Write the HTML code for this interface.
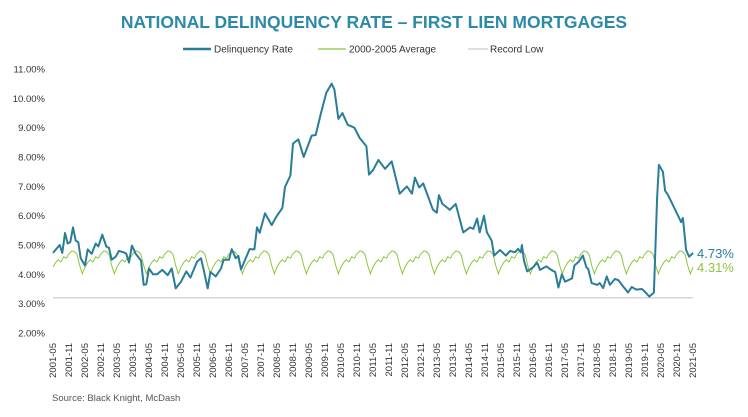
<!DOCTYPE html>
<html><head><meta charset="utf-8"><style>
body{margin:0;background:#fff;width:748px;height:412px;overflow:hidden;font-family:"Liberation Sans",sans-serif}
</style></head><body>
<svg id="c" width="748" height="412" font-family="Liberation Sans, sans-serif">
<text x="374" y="28" text-anchor="middle" font-size="17.5" font-weight="bold" fill="#2b8aa6">NATIONAL DELINQUENCY RATE – FIRST LIEN MORTGAGES</text>
<g font-size="10" fill="#333">
<line x1="183" y1="49" x2="211" y2="49" stroke="#2a7d98" stroke-width="2.5"/>
<text x="214" y="52.5">Delinquency Rate</text>
<line x1="318" y1="49" x2="346" y2="49" stroke="#8cc63f" stroke-width="1.2"/>
<text x="349" y="52.5">2000-2005 Average</text>
<line x1="468" y1="49" x2="488" y2="49" stroke="#c9c9c9" stroke-width="1.2"/>
<text x="490" y="52.5">Record Low</text>
</g>
<g id="yax"></g><g id="xax"></g><g id="plot"></g>
<text x="52" y="401" font-size="9.5" fill="#555">Source: Black Knight, McDash</text>
</svg>
<script>
const yTicks=[2,3,4,5,6,7,8,9,10,11];
const xLabels=["2001-05","2001-11","2002-05","2002-11","2003-05","2003-11","2004-05","2004-11","2005-05","2005-11","2006-05","2006-11","2007-05","2007-11","2008-05","2008-11","2009-05","2009-11","2010-05","2010-11","2011-05","2011-11","2012-05","2012-11","2013-05","2013-11","2014-05","2014-11","2015-05","2015-11","2016-05","2016-11","2017-05","2017-11","2018-05","2018-11","2019-05","2019-11","2020-05","2020-11","2021-05"];
const monthIdx=[0,2.5,3.5,4.5,5.5,6.5,7.5,8.5,9.5,10.4,12,13,14.5,16,17,18.5,20,21,22,23.5,24.7,26.5,27.5,28.5,29.6,31,33,34,35,36,37.5,39,41,43,44.5,46,48,50,51.5,54,55.5,56.5,58,59,61,63,64,66,67,68.5,69.5,70.5,73.7,75.5,76.5,77.5,79.5,82,83.5,86,87,89,90,92,94,97,98.5,100.5,102.5,104.5,105.5,107,108.5,110.5,113,115,117.5,118.5,120,122,124.5,127,130,132.7,134.6,135.7,137.3,138.8,142.5,143.9,144.7,146,148.8,151,153.8,156.4,157.6,159,160,161.6,162.7,164.5,165.4,167.6,169.8,171.4,173.2,174.4,175.4,175.8,176.6,177.8,180,181.5,182.6,185,187,188.3,189.5,190.8,192,194.6,195.5,197,198.7,200,200.7,202,204,205,206.3,207.6,208.8,210.7,212,213.7,215.6,217,218.8,220.8,222,223.6,225.3,226.5,227.2,228.7,229.5,230.6,232.5,235.5,236.2,237.4,238.5,240];
const rates=[4.73,5.0,4.73,5.41,5.05,5.1,5.6,5.15,5.1,4.55,4.3,4.85,4.7,5.05,4.95,5.35,4.95,4.9,4.5,4.6,4.8,4.75,4.7,4.4,4.98,4.7,4.47,3.64,3.66,4.2,4.0,4.0,4.15,3.97,4.2,3.52,3.75,4.1,3.89,4.43,4.55,4.15,3.52,4.08,3.93,4.2,4.5,4.5,4.86,4.55,4.63,4.17,4.86,4.85,5.6,5.42,6.08,5.68,5.93,6.27,6.98,7.37,8.46,8.6,8.0,8.73,8.75,9.5,10.2,10.5,10.3,9.3,9.5,9.1,9.0,8.65,8.37,7.4,7.55,7.9,7.6,7.85,6.75,7.0,6.75,7.3,6.96,7.1,6.2,6.1,6.7,6.4,6.2,6.4,5.43,5.6,5.55,5.9,5.43,6.0,5.43,5.15,4.64,4.83,4.64,4.8,4.75,4.87,4.75,5.0,4.46,4.1,4.24,4.4,4.15,4.27,4.14,4.08,3.55,4.0,3.75,3.86,4.3,4.42,4.64,4.24,4.18,3.7,3.64,3.7,3.53,3.93,3.64,3.84,3.8,3.6,3.38,3.57,3.48,3.5,3.4,3.24,3.38,6.6,7.73,7.5,6.85,6.7,6.35,5.78,5.92,4.83,4.6,4.73];
// 2000-2005 average by calendar month, starting May
const avgByMonth=[4.25,4.4,4.5,4.42,4.6,4.55,4.7,4.8,4.78,4.68,4.3,4.02];
const recordLow=3.2;
const endLabels=["4.73%","4.31%"];
const NS="http://www.w3.org/2000/svg";
const X0=53,XW=2.667*240;
const x=m=>X0+m*XW/240;
const y=v=>333-(v-2)*29.33;
function mk(t,a,p){const e=document.createElementNS(NS,t);for(const k in a)e.setAttribute(k,a[k]);p.appendChild(e);return e;}
const yax=document.getElementById('yax'),xax=document.getElementById('xax'),plot=document.getElementById('plot');
yTicks.forEach(v=>{const t=mk('text',{x:45,y:y(v)+3.5,'text-anchor':'end','font-size':9.5,fill:'#333'},yax);t.textContent=v.toFixed(2)+'%';

});
xLabels.forEach((s,i)=>{const xx=x(i*6)+3;const t=mk('text',{x:xx,y:343,transform:`rotate(-90 ${xx} 343)`,'text-anchor':'end','font-size':9.5,fill:'#333'},xax);t.textContent=s;

});
const rl=mk('line',{x1:x(0),x2:x(240),y1:y(recordLow),y2:y(recordLow),stroke:'#c9c9c9','stroke-width':1.2},plot);


let ap=[];for(let m=0;m<=240;m++)ap.push(x(m).toFixed(1)+','+y(avgByMonth[m%12]).toFixed(1));
const al=mk('polyline',{points:ap.join(' '),fill:'none',stroke:'#8cc63f','stroke-width':1},plot);


const dp=monthIdx.map((m,i)=>x(m).toFixed(1)+','+y(rates[i]).toFixed(1));
const dl=mk('polyline',{points:dp.join(' '),fill:'none',stroke:'#2a7d98','stroke-width':2,'stroke-linejoin':'round'},plot);


const e1=mk('text',{x:697,y:258,'font-size':13,fill:'#2a7d98'},plot);e1.textContent=endLabels[0];


const e2=mk('text',{x:697,y:272,'font-size':13,fill:'#8cc63f'},plot);e2.textContent=endLabels[1];


</script>
</body></html>
